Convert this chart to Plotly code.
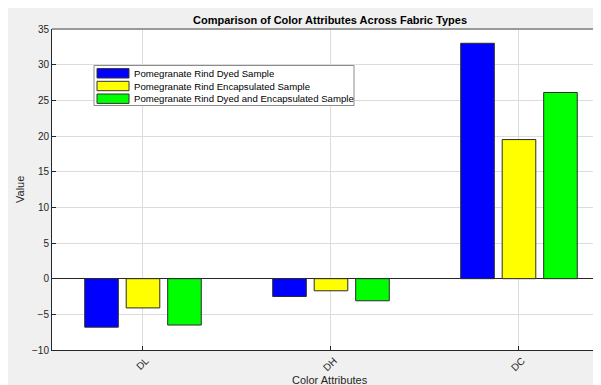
import plotly.graph_objects as go

categories = ["DL", "DH", "DC"]
series_names = [
    "Pomegranate Rind Dyed Sample",
    "Pomegranate Rind Encapsulated Sample",
    "Pomegranate Rind Dyed and Encapsulated Sample",
]
dyed = [-6.8, -2.5, 33.0]
encapsulated = [-4.1, -1.7, 19.5]
dyed_encapsulated = [-6.5, -3.1, 26.1]
series_values = [dyed, encapsulated, dyed_encapsulated]
colors = ["#0000ff", "#ffff00", "#00ff00"]
y_ticks = [-10, -5, 0, 5, 10, 15, 20, 25, 30, 35]

# page has an 8px body margin; figure fills the rest of the 601x385 window
OFF = 8
W, H = 601 - OFF, 385 - OFF
ML, MR, MT, MB = 44, 0, 21, 35
PW = W - ML - MR
PH = H - MT - MB


def px(x_page):
    return (x_page - OFF - ML) / PW


def py(y_page):
    return (H - MB - (y_page - OFF)) / PH


fig = go.Figure()
for name, vals, col in zip(series_names, series_values, colors):
    fig.add_trace(go.Bar(
        x=categories, y=vals, name=name,
        marker=dict(color=col, line=dict(color="#2b2b2b", width=1)),
        showlegend=False,
    ))

shapes = [
    dict(type="line", xref="paper", yref="paper", x0=0, x1=1, y0=1, y1=1,
         line=dict(color="#9a9a9a", width=2)),
    dict(type="rect", xref="paper", yref="paper", x0=px(94), x1=px(354), y0=py(105.5), y1=py(65.5),
         fillcolor="white", line=dict(color="#8c8c8c", width=1)),
]
annotations = []
row_y = [73.3, 86.0, 98.7]
for name, col, ry in zip(series_names, colors, row_y):
    shapes.append(dict(type="rect", xref="paper", yref="paper", x0=px(97), x1=px(129),
                       y0=py(ry + 4.7), y1=py(ry - 4.7), fillcolor=col,
                       line=dict(color="#333333", width=1)))
    annotations.append(dict(xref="paper", yref="paper", x=px(132), y=py(ry), text=name,
                            showarrow=False, xanchor="left", yanchor="middle",
                            font=dict(family="Liberation Sans, Arial", size=9.6, color="#000000")))

annotations.append(dict(xref="paper", yref="paper", x=px(330), y=py(380), text="Color Attributes",
                        showarrow=False, xanchor="center", yanchor="middle",
                        font=dict(family="Liberation Sans, Arial", size=11, color="#262626")))
annotations.append(dict(xref="paper", yref="paper", x=px(20), y=py(190), text="Value", textangle=-90,
                        showarrow=False, xanchor="center", yanchor="middle",
                        font=dict(family="Liberation Sans, Arial", size=11, color="#262626")))

fig.update_layout(
    width=W, height=H,
    margin=dict(l=ML, r=MR, t=MT, b=MB, pad=0),
    paper_bgcolor="#f0f0f0",
    plot_bgcolor="white",
    barmode="group",
    bargap=0.338,
    bargroupgap=0.19,
    title=dict(text="<b>Comparison of Color Attributes Across Fabric Types</b>",
               x=(330 - OFF) / W, xanchor="center", y=1 - (20 - OFF) / H, yanchor="middle",
               font=dict(family="Liberation Sans, Arial", size=11, color="#000000")),
    font=dict(family="Liberation Sans, Arial", size=10, color="#262626"),
    shapes=shapes,
    annotations=annotations,
    xaxis=dict(
        type="category", categoryorder="array", categoryarray=categories,
        range=[-0.484, -0.484 + PW / 188.0],
        showgrid=True, gridcolor="#dcdcdc", gridwidth=1,
        showline=True, linecolor="#262626", linewidth=1, mirror=False,
        ticks="inside", ticklen=4, tickcolor="#262626",
        tickangle=-45, ticklabelshift=3,
        tickfont=dict(size=10, color="#262626"),
    ),
    yaxis=dict(
        range=[-10, 35], tickvals=y_ticks,
        showgrid=True, gridcolor="#dcdcdc", gridwidth=1,
        zeroline=True, zerolinecolor="#262626", zerolinewidth=1,
        showline=True, linecolor="#262626", linewidth=1,
        ticks="inside", ticklen=4, tickcolor="#262626",
        tickfont=dict(size=10, color="#262626"),
    ),
)

fig.write_html("out.html")
